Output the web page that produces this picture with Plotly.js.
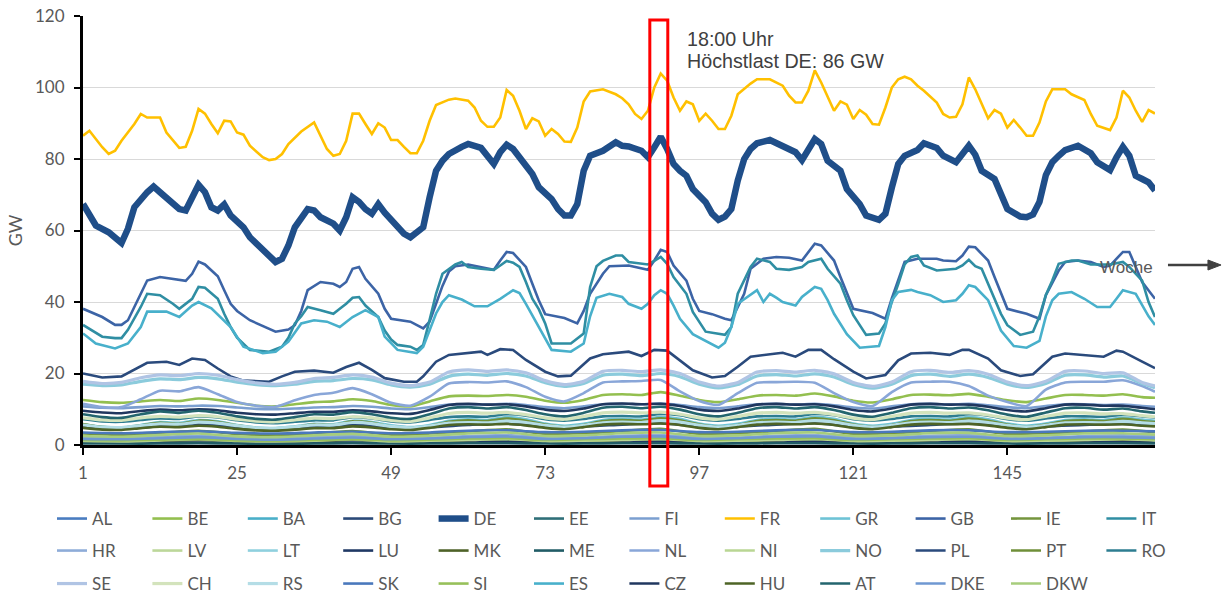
<!DOCTYPE html>
<html><head><meta charset="utf-8">
<script src="https://cdn.plot.ly/plotly-3.0.1.min.js"></script>
<style>html,body{margin:0;padding:0;background:#fff}#chart{width:1222px;height:594px}</style>
</head><body><div id="chart"></div>
<script>
// ---------- hour grids ----------
const H3 = [1,4,7,10,13,16,19,22,25,28,31,34,37,40,43,46,49,52,55,58,61,64,67,70,73,76,79,82,85,88,91,94,97,100,103,106,109,112,115,118,121,124,127,130,133,136,139,142,145,148,151,154,157,160,163,166,168];
const H6 = [1,7,13,19,25,31,37,43,49,55,61,67,73,79,85,91,97,103,109,115,121,127,133,139,145,151,157,163,168];
const X_TICKS = [1,25,49,73,97,121,145];
const Y_TICKS = [0,20,40,60,80,100,120];

// ---------- large series (read vertex by vertex) ----------
const FR_H = [1,2,4,5,6,7,9,10,11,13,14,16,17,18,19,20,21,22,23,24,25,26,27,29,30,31,32,33,35,37,39,40,41,42,43,44,45,46,47,48,49,50,51,52,53,54,55,56,58,59,61,62,63,64,65,66,67,68,69,70,71,72,73,74,75,76,77,78,79,80,82,84,85,86,87,88,89,90,91,92,93,94,95,96,97,98,99,100,101,102,103,105,106,108,110,111,112,113,114,115,116,117,118,119,120,121,122,123,124,125,126,127,128,129,130,131,132,134,135,136,137,138,139,140,141,142,143,144,145,146,147,148,149,150,151,152,154,155,157,158,159,161,162,163,164,165,166,167,168];
const FR = [86.5,87.9,83.3,81.4,82.3,85.1,89.8,92.6,91.6,91.6,87.4,83.1,83.4,87.9,94,92.7,89.8,87.2,90.7,90.5,87.4,86.8,83.7,80.5,79.7,80,81.4,84.2,87.7,90.2,82.8,80.9,81.4,85.1,92.7,92.7,89.8,87,90,88.8,85.3,85.3,83.4,81.6,81.6,85.1,90.7,95.1,96.6,96.9,96.3,94.4,90.7,89,89,91.6,99.3,97.7,93.5,88.4,91.4,90.5,86.5,88.4,87,84.9,84.8,88.8,96.1,98.9,99.5,98.1,97,95.3,92.6,91.2,93.5,100,103.9,101.9,97.2,93.5,96.1,95.3,90.7,92.7,90.7,88.4,88.4,92.1,98.1,101.1,102.3,102.3,100.5,97.7,95.8,95.8,99.1,104.8,101.4,97.2,93.5,96.1,95.2,91.2,93.7,92.4,89.8,89.6,94.4,100,102.3,103,102.3,100.5,99.1,95.8,92.6,91.6,91.8,95.3,102.8,99.5,95.3,91.4,93.7,92.7,88.8,90.9,88.8,86.5,86.5,90.2,96.1,99.5,99.5,98.1,96.5,92.6,89.3,88.1,91.6,99.1,97.2,93.5,90.4,93.7,92.7];

const DE_H = [1,2,3,5,6,7,8,9,11,12,13,15,16,17,18,19,20,21,22,23,24,26,27,28,29,30,31,32,33,34,36,37,38,40,41,42,43,44,45,46,47,48,50,51,52,54,55,56,57,58,60,61,63,64,65,66,67,68,70,71,72,74,75,76,77,78,79,80,82,84,85,86,88,89,90,91,92,93,94,95,96,98,99,100,101,102,103,104,105,106,108,110,112,113,114,115,116,117,119,120,122,123,125,126,127,128,129,131,132,134,135,137,138,139,140,141,143,144,145,147,148,149,150,151,152,153,154,156,158,159,161,162,163,164,165,166,167,168];
const DE = [67.4,64.2,61.4,59.5,58.1,56.5,60.5,66.5,70.7,72.3,70.7,67.9,66,65.6,69.3,72.8,70.7,66.5,65.6,67.3,64.2,60.9,58.1,56.3,54.9,53,51.2,52.1,55.8,60.9,66,65.6,63.7,61.9,60,63.7,69.3,68,66,64.7,67.4,65,61.4,59.1,58.1,60.9,69.3,76.7,79.5,81.4,83.4,84.2,83.1,80.9,78.6,81.9,84,82.8,77.7,75.8,72.1,68.8,66,64.2,64.2,67.4,76.7,80.9,82.3,84.7,83.7,83.5,82.3,80.5,83.3,86.2,82.8,78.6,76.7,75.3,71.6,67.9,64.7,63,63.9,66,74,80,82.8,84.4,85.3,83.7,81.9,79.7,82.3,85.6,84.2,79.5,76.7,71.6,67.4,64.2,63,64.7,72,78.6,80.9,82.5,84.4,83.1,80.9,79.1,81.4,83.7,81.2,76.7,74.4,70.2,66,63.9,63.7,64.5,68,75.5,79.1,80.9,82.5,83.7,81.6,79.1,76.9,80.5,83.4,80.9,75.3,74.4,73.5,71.2];

const GB_H = [1,4,6,7,8,10,11,13,16,17,18,19,20,22,23,24,25,26,27,31,33,34,35,36,38,40,41,42,43,44,45,47,48,49,52,54,55,56,57,58,59,61,63,65,66,67,68,70,71,72,73,76,78,79,80,82,83,86,89,90,91,92,93,95,96,97,99,101,102,104,105,107,109,111,113,114,115,116,118,119,120,121,124,126,127,128,129,131,134,135,137,138,139,140,142,143,144,145,148,150,151,153,154,156,158,160,161,162,163,164,165,166,168];
const GB = [38.1,35.8,33.6,33.6,34.9,42.3,46,47,46.2,45.9,47.9,51.3,50.5,47.2,43.3,39.5,37.5,36.2,34.9,31.7,32.3,33.5,37.5,43.3,45.6,45.1,44.2,45.6,49.3,49.8,46.5,42.3,38.1,35.3,34.5,32.6,34.5,39.5,44.5,48.5,50,50.5,49.8,49,51.6,54,53.7,49.8,45.1,40.5,36.6,35.5,34,37.5,42.3,47.9,50,50.2,49,51.6,54.6,54,50.2,46,40.9,37.5,36.6,35.3,34.9,42.3,49.3,52.1,52.6,52.4,51.6,54,56.3,55.8,51.6,47,42.3,38.1,36.9,35.3,41,46,51.2,52.1,52.1,51.6,51.4,53,55.5,55.3,51.6,47,42.3,38.1,36.7,35.3,41.9,48.8,51.2,51.6,51.2,49.8,50.2,52,54,54,49.8,45.6,40.9];

const IT_H = [1,4,6,7,8,10,11,13,15,16,18,19,20,22,23,24,25,27,30,32,33,34,35,36,38,40,41,42,43,44,45,47,48,49,50,52,53,54,55,56,57,59,60,61,63,65,66,67,68,69,70,71,72,73,74,77,79,80,81,82,84,85,86,89,90,91,92,93,95,96,98,101,102,103,105,106,108,109,111,113,114,116,117,119,120,121,123,125,126,127,128,129,130,131,132,134,137,138,139,140,141,142,143,144,145,147,149,150,151,152,153,155,156,158,159,161,163,164,166,167,168];
const IT = [33.6,30.3,29.9,29.9,32.2,38.6,42.3,41.9,39.5,38.1,40.9,44.2,44,40.9,36.7,33,30,26.6,26.1,27.5,30,34,36,38.6,37.7,36.7,38.1,39.5,41.2,41.4,39,35.8,32,29.5,28,27.5,26.6,28,35,42.3,47.9,50.5,51.2,49.8,49.3,49,50.2,51.5,51,49.8,45.6,40.9,38,34,28.4,28.4,31.2,44.2,50,51.5,53,53,51.2,50.5,51.5,52.6,50.7,47,42.3,37.2,31.7,30.8,33,42.3,49.8,52.1,51.2,49.3,49,49.8,51.2,52.1,49.3,45.1,40.5,36.3,30.8,31.2,34,40,45,50.5,52.6,53,50.2,48.8,49.3,50.2,51.8,50,49.3,45.1,40.5,36.7,33.5,30.8,31.7,36,42,46,50.7,51.6,51.6,50.5,50.5,50.5,51.2,49.8,46,40,35.8];

const ES_H = [1,3,6,8,10,11,14,16,18,19,21,24,26,29,31,33,35,37,39,41,43,45,47,48,50,53,54,56,57,58,60,62,64,66,68,69,70,71,72,74,77,79,80,81,83,85,86,88,89,90,91,92,93,94,96,99,100,101,102,103,105,106,107,108,109,110,112,113,115,116,117,118,120,122,125,126,127,128,130,131,133,135,137,138,139,140,142,143,144,146,148,150,151,152,153,155,157,159,161,162,163,165,166,167,168];
const ES = [31.2,28.4,27,28.4,33,37.3,37.3,35.8,39,40,38.2,33,27.5,25.7,26.1,28.9,34,34.9,34.5,33,35.8,37.7,35.8,30.3,26.6,25.7,27.5,36.8,40,41.9,40.7,38.8,38.8,40.9,43.3,42.5,39.5,36.3,33,26.6,26.1,28.4,36,41.2,42.3,41.4,39.5,38.1,39.5,41.9,43.3,42.3,39,35.3,31,28.1,27.2,28.6,33,39.5,41.9,43.3,40,42.3,41.2,40,39,41.4,44.2,43.7,40.5,36.7,31,27.2,27.7,33,40.5,42.8,43.4,42.8,41.9,40,40.5,42.3,44.7,44.2,40.5,36.3,32,27.7,27.2,29.1,36,40.5,42.3,42.8,40.9,38.6,38.6,40.9,43.3,42.3,39,36,33.6];

const PL_H = [1,4,7,9,11,14,16,18,20,22,24,26,30,32,34,37,40,42,44,46,48,51,53,54,56,58,61,63,64,66,68,70,73,75,77,78,80,82,86,88,90,92,94,96,99,101,103,105,109,110,112,114,116,118,121,123,126,128,130,133,136,138,139,142,144,147,149,152,154,157,160,162,163,166,168];
const PL = [20,18.9,19.2,21,23,23.3,22.4,24.2,23.8,21.4,19.2,18,17.7,19.2,20.5,20.8,20.2,21.8,23,21,18.7,17.7,17.7,19.2,23.3,25.2,25.8,26.1,25.2,26.8,26.6,23.8,20.5,19.2,19.4,21,24.2,25.4,26.1,24.9,26.6,26.4,23.7,20.9,18.9,19.3,21.9,24.7,25.6,25.8,24.7,26.6,26.6,24,20.5,18.6,19.6,23.7,25.6,25.8,25.2,26.6,26.6,24.2,20.9,19.3,19.8,24.7,25.6,25.2,24.7,26.4,26.1,23.3,21.5];

// ---------- mid series, 3-hourly (H3) ----------
const SE = [17.8,17.2,17.5,18.8,19.6,19.4,20.0,19.5,18.3,17.4,17.0,17.5,18.6,18.9,19.6,19.0,17.3,16.6,17.6,20.4,21.0,20.6,21.0,20.2,18.0,16.9,17.8,20.6,20.9,20.5,21.0,20.0,17.6,16.5,17.5,20.4,20.8,20.4,20.9,19.9,17.5,16.4,17.6,20.5,20.9,20.3,20.8,19.8,17.6,16.6,17.8,20.6,20.7,20.0,20.2,17.5,16.5];
const NO = [17.0,16.6,16.8,17.8,18.5,18.3,18.9,18.5,17.6,16.9,16.6,17.0,17.8,18.0,18.6,18.2,16.8,16.2,17.0,19.2,19.8,19.5,20.0,19.3,17.4,16.4,17.2,19.5,19.8,19.4,20.0,19.1,17.0,16.0,16.9,19.3,19.7,19.3,19.9,19.0,16.9,15.9,17.0,19.4,19.8,19.2,19.8,18.9,17.0,16.1,17.2,19.5,19.6,19.0,19.3,17.2,16.0];
const NL = [11.5,10.6,10.6,12.8,15.2,15.0,16.2,14.2,12.0,11.0,10.7,12.5,14.0,14.6,15.9,14.2,11.8,11.0,13.5,17.2,17.6,17.5,17.8,16.2,13.5,12.2,14.5,17.5,17.8,17.9,18.2,15.0,12.3,11.2,14.5,17.4,17.6,17.7,17.4,14.5,12.0,10.9,14.8,17.5,17.7,17.7,16.5,13.8,12.0,10.9,15.5,17.5,17.7,17.7,18.1,16.5,14.9];
const BE = [12.6,12.0,11.8,12.2,12.6,12.3,13.0,12.6,11.8,11.0,10.8,11.4,12.0,12.2,12.8,12.3,11.2,10.8,12.2,13.6,13.8,13.7,14.0,13.5,12.4,11.8,12.6,14.0,14.2,14.0,14.8,13.8,12.6,12.0,12.8,13.8,14.0,13.8,14.4,13.6,12.4,11.9,12.8,14.0,14.1,13.9,14.3,13.5,12.5,12.0,13.0,14.0,14.0,13.8,14.2,13.4,13.2];
const FI = [10.8,10.4,10.3,10.6,10.9,10.8,11.0,10.9,10.5,10.1,10.0,10.2,10.5,10.6,10.9,10.7,10.2,10.0,10.6,11.3,11.4,11.3,11.5,11.2,10.6,10.3,10.8,11.4,11.5,11.4,11.6,11.2,10.6,10.3,10.8,11.4,11.5,11.3,11.5,11.1,10.5,10.2,10.8,11.4,11.5,11.3,11.5,11.1,10.6,10.3,10.9,11.4,11.4,11.2,11.3,10.9,10.7];
const CZ = [9.6,9.1,8.9,9.5,9.9,9.7,10.0,9.7,9.0,8.6,8.5,8.9,9.3,9.3,9.7,9.4,8.9,8.7,9.8,11.2,11.5,11.3,11.4,10.8,9.9,9.5,10.2,11.4,11.6,11.4,11.5,10.9,9.9,9.5,10.2,11.3,11.5,11.3,11.4,10.8,9.8,9.4,10.2,11.3,11.5,11.3,11.3,10.7,9.8,9.4,10.3,11.3,11.3,11.0,11.0,10.4,10.0];
const AT = [8.6,7.8,7.6,8.6,9.4,9.0,9.6,9.0,8.0,7.3,7.1,7.8,8.6,8.5,9.2,8.6,7.6,7.3,8.6,10.2,10.6,10.2,10.6,9.8,8.6,8.0,9.0,10.4,10.7,10.3,10.7,9.9,8.6,8.0,9.0,10.3,10.6,10.2,10.6,9.8,8.5,7.9,9.0,10.3,10.6,10.2,10.5,9.7,8.5,7.9,9.1,10.3,10.4,9.9,10.2,9.4,9.0];
const CH = [7.6,7.0,6.9,7.6,8.0,7.8,8.2,7.9,7.2,6.7,6.5,7.0,7.5,7.4,7.9,7.6,6.9,6.6,7.6,8.8,9.1,8.9,9.1,8.5,7.6,7.2,8.0,9.0,9.2,9.0,9.2,8.6,7.6,7.2,8.0,8.9,9.1,8.9,9.1,8.5,7.5,7.1,8.0,8.9,9.1,8.9,9.0,8.4,7.5,7.1,8.0,8.9,9.0,8.7,8.8,8.2,7.9];
const RO = [7.2,6.6,6.5,7.0,7.4,7.3,8.0,7.7,6.9,6.3,6.1,6.5,6.9,6.9,7.8,7.4,6.6,6.3,7.0,7.8,8.0,7.9,8.6,8.2,7.2,6.8,7.3,8.0,8.1,8.0,8.7,8.3,7.2,6.8,7.3,8.0,8.1,8.0,8.7,8.3,7.2,6.8,7.3,8.0,8.1,8.0,8.6,8.2,7.2,6.8,7.4,8.0,8.0,7.9,8.5,8.0,7.7];
const GR = [5.8,5.1,4.9,5.6,6.4,6.2,7.0,6.6,5.6,4.9,4.7,5.2,5.9,5.8,6.8,6.4,5.5,5.0,5.6,6.8,7.2,7.0,7.8,7.2,6.0,5.4,5.9,7.0,7.3,7.1,7.9,7.3,6.0,5.4,5.9,7.0,7.3,7.1,7.9,7.3,6.0,5.4,5.9,7.0,7.3,7.1,7.8,7.2,6.0,5.4,6.0,7.0,7.2,7.0,7.7,7.1,6.8];
const PT = [5.9,5.0,4.8,5.5,6.2,5.9,6.8,6.4,5.5,4.7,4.5,5.0,5.8,5.6,6.6,6.2,5.2,4.7,5.3,6.5,6.9,6.7,7.4,6.8,5.7,5.0,5.6,6.7,7.0,6.8,7.5,6.9,5.7,5.0,5.6,6.7,7.0,6.8,7.5,6.9,5.7,5.0,5.6,6.7,7.0,6.8,7.4,6.8,5.7,5.0,5.7,6.7,6.9,6.7,7.3,6.7,6.4];
const RS = [5.6,5.0,4.9,5.4,5.9,5.8,6.4,6.1,5.4,4.8,4.7,5.1,5.6,5.6,6.3,6.0,5.2,4.8,5.3,6.1,6.3,6.2,6.7,6.3,5.5,5.0,5.5,6.2,6.4,6.3,6.8,6.4,5.5,5.0,5.5,6.2,6.4,6.3,6.8,6.4,5.5,5.0,5.5,6.2,6.4,6.3,6.7,6.3,5.5,5.0,5.5,6.2,6.3,6.2,6.6,6.2,6.0];
const HU = [4.8,4.3,4.2,4.7,5.1,5.0,5.4,5.1,4.5,4.1,4.0,4.3,4.7,4.7,5.2,4.9,4.4,4.2,4.8,5.6,5.8,5.7,5.9,5.5,4.8,4.4,5.0,5.7,5.9,5.8,6.0,5.6,4.8,4.4,5.0,5.7,5.9,5.8,6.0,5.6,4.8,4.4,5.0,5.7,5.9,5.8,5.9,5.5,4.8,4.4,5.0,5.7,5.8,5.7,5.8,5.4,5.2];

// ---------- small series, 6-hourly (H6) ----------
const BG = [5.2,4.8,5.2,5.8,5.0,4.6,5.0,5.7,4.9,5.0,5.6,6.0,5.2,5.2,5.7,6.1,5.2,5.2,5.7,6.1,5.2,5.2,5.6,6.0,5.2,5.2,5.6,5.9,5.5];
const IE = [3.2,2.8,3.4,4.0,3.1,2.7,3.2,3.9,2.9,3.2,3.8,4.4,3.1,3.3,3.9,4.5,3.1,3.3,3.9,4.5,3.1,3.3,3.9,4.4,3.1,3.3,3.8,4.3,3.6];
const SK = [3.5,3.3,3.6,3.8,3.4,3.2,3.5,3.7,3.3,3.5,4.0,4.1,3.6,3.7,4.1,4.2,3.6,3.7,4.1,4.2,3.6,3.7,4.1,4.1,3.6,3.7,4.0,4.0,3.8];
const DKW = [2.5,2.3,2.8,3.2,2.4,2.2,2.7,3.1,2.3,2.6,3.2,3.5,2.5,2.7,3.3,3.5,2.5,2.7,3.3,3.5,2.5,2.7,3.3,3.4,2.5,2.7,3.2,3.3,2.9];
const HR = [2.1,1.9,2.3,2.6,2.0,1.8,2.2,2.5,1.9,2.0,2.5,2.8,2.1,2.1,2.6,2.8,2.1,2.1,2.6,2.8,2.1,2.1,2.6,2.7,2.1,2.1,2.5,2.7,2.4];
const DKE = [1.7,1.6,1.9,2.2,1.7,1.5,1.8,2.1,1.6,1.8,2.2,2.4,1.7,1.9,2.3,2.4,1.7,1.9,2.3,2.4,1.7,1.9,2.2,2.3,1.7,1.9,2.2,2.2,2.0];
const BA = [1.6,1.4,1.7,2.0,1.6,1.4,1.6,1.9,1.5,1.5,1.8,2.1,1.6,1.6,1.8,2.1,1.6,1.6,1.8,2.1,1.6,1.6,1.8,2.0,1.6,1.6,1.8,2.0,1.8];
const SI = [1.4,1.3,1.5,1.7,1.3,1.2,1.4,1.6,1.3,1.5,1.8,1.9,1.4,1.6,1.8,1.9,1.4,1.6,1.8,1.9,1.4,1.6,1.8,1.9,1.4,1.6,1.8,1.8,1.6];
const NI = [1.1,1.0,1.3,1.6,1.1,1.0,1.2,1.6,1.0,1.2,1.4,1.7,1.1,1.2,1.4,1.7,1.1,1.2,1.4,1.7,1.1,1.2,1.4,1.7,1.1,1.2,1.4,1.6,1.3];
const LT = [1.1,1.0,1.2,1.4,1.0,0.9,1.1,1.3,1.0,1.1,1.4,1.5,1.1,1.2,1.4,1.5,1.1,1.2,1.4,1.5,1.1,1.2,1.4,1.5,1.1,1.2,1.4,1.4,1.3];
const MK = [1.2,1.1,1.3,1.5,1.2,1.0,1.2,1.5,1.1,1.2,1.4,1.6,1.2,1.2,1.4,1.6,1.2,1.2,1.4,1.6,1.2,1.2,1.4,1.6,1.2,1.2,1.4,1.5,1.4];
const EE = [0.9,0.8,1.0,1.1,0.9,0.8,0.9,1.1,0.8,0.9,1.1,1.2,0.9,1.0,1.1,1.2,0.9,1.0,1.1,1.2,0.9,1.0,1.1,1.2,0.9,1.0,1.1,1.1,1.0];
const AL = [1.0,0.9,1.0,1.3,1.0,0.9,1.0,1.3,0.9,1.0,1.1,1.4,1.0,1.0,1.1,1.4,1.0,1.0,1.1,1.4,1.0,1.0,1.1,1.4,1.0,1.0,1.1,1.3,1.2];
const LV = [0.8,0.7,0.8,0.9,0.7,0.6,0.8,0.9,0.7,0.8,0.9,1.0,0.7,0.8,0.9,1.0,0.7,0.8,0.9,1.0,0.7,0.8,0.9,1.0,0.7,0.8,0.9,0.9,0.8];
const LU = [0.7,0.6,0.7,0.7,0.6,0.6,0.6,0.7,0.6,0.7,0.8,0.8,0.7,0.7,0.8,0.8,0.7,0.7,0.8,0.8,0.7,0.7,0.8,0.8,0.7,0.7,0.8,0.8,0.7];
const ME = [0.4,0.4,0.4,0.5,0.4,0.3,0.4,0.5,0.4,0.4,0.5,0.5,0.4,0.4,0.5,0.5,0.4,0.4,0.5,0.5,0.4,0.4,0.5,0.5,0.4,0.4,0.5,0.5,0.4];

// ---------- legend rows (series order) ----------
const ROW1 = ['AL','BE','BA','BG','DE','EE','FI','FR','GR','GB','IE','IT'];
const ROW2 = ['HR','LV','LT','LU','MK','ME','NL','NI','NO','PL','PT','RO'];
const ROW3 = ['SE','CH','RS','SK','SI','ES','CZ','HU','AT','DKE','DKW'];

const DATA = {
  AL:[H6,AL], BE:[H3,BE], BA:[H6,BA], BG:[H6,BG], DE:[DE_H,DE], EE:[H6,EE], FI:[H3,FI], FR:[FR_H,FR],
  GR:[H3,GR], GB:[GB_H,GB], IE:[H6,IE], IT:[IT_H,IT], HR:[H6,HR], LV:[H6,LV], LT:[H6,LT], LU:[H6,LU],
  MK:[H6,MK], ME:[H6,ME], NL:[H3,NL], NI:[H6,NI], NO:[H3,NO], PL:[PL_H,PL], PT:[H3,PT], RO:[H3,RO],
  SE:[H3,SE], CH:[H3,CH], RS:[H3,RS], SK:[H6,SK], SI:[H6,SI], ES:[ES_H,ES], CZ:[H3,CZ], HU:[H3,HU],
  AT:[H3,AT], DKE:[H6,DKE], DKW:[H6,DKW]
};

// ---------- styles ----------
const COLORS = {
  AL:'#4a7cc0', BE:'#93bf4f', BA:'#4aafc9', BG:'#2b4a78', DE:'#1f4e89', EE:'#2f6f78', FI:'#7b9fd0', FR:'#ffc000',
  GR:'#6ec3d6', GB:'#3c64a6', IE:'#74953d', IT:'#2f8ea3', HR:'#8eacd8', LV:'#bcd79a', LT:'#8fd0de', LU:'#1f3864',
  MK:'#4e6228', ME:'#215c66', NL:'#89a6d8', NI:'#b9d693', NO:'#8bcbdc', PL:'#2a4a7c', PT:'#6f8f38', RO:'#2d7d91',
  SE:'#b0c4e4', CH:'#d3e3bc', RS:'#b4dde6', SK:'#4a78bc', SI:'#97c05a', ES:'#48b0cb', CZ:'#20375f', HU:'#4e6426',
  AT:'#23656e', DKE:'#6f98d2', DKW:'#a7cd7c'
};
const DETAILED = ['FR','DE','GB','IT','ES','PL'];
const THICK = ['SE','NO','RS','CH'];

// each legend row is split in two halves (6 entries each)
const LEGEND_IDS = ['legend','legend2','legend3','legend4','legend5','legend6'];
const traces = [];
[ROW1, ROW2, ROW3].forEach((row, r) => {
  row.forEach((name, i) => {
    const [xs, ys] = DATA[name];
    traces.push({
      type:'scatter', mode:'lines', name:name, x:xs, y:ys,
      legend: LEGEND_IDS[r*2 + (i < 6 ? 0 : 1)],
      line:{color:COLORS[name], width: name==='DE' ? 6.5 : (THICK.includes(name) ? 3.2 : 2.6),
            shape: DETAILED.includes(name) ? 'linear' : 'spline', smoothing:0.6},
      hoverinfo:'skip'
    });
  });
});

const ROW_Y = [519, 551, 584];          // legend row centres (px from top)
const COL_X = [52, 52 + 6*95.4];        // left / right half starts (px)
const legendBase = {
  orientation:'h', xref:'container', yref:'container', xanchor:'left', yanchor:'middle',
  entrywidth:50.4, entrywidthmode:'pixels', bgcolor:'rgba(0,0,0,0)', borderwidth:0,
  font:{family:'Lato, sans-serif', size:17, color:'#595959'}, traceorder:'normal'
};

const layout = {
  width:1222, height:594,
  margin:{l:83, r:67, t:16, b:149},
  paper_bgcolor:'#ffffff', plot_bgcolor:'#ffffff',
  font:{family:'Lato, sans-serif', color:'#595959', size:16},
  showlegend:true,
  xaxis:{range:[1,168], tickmode:'array', tickvals:X_TICKS, ticktext:X_TICKS.map(String),
         showgrid:false, zeroline:false, showline:true, linecolor:'#000', linewidth:2.5,
         ticks:'outside', ticklen:7, tickwidth:2, tickcolor:'#000',
         tickfont:{family:'Lato, sans-serif', size:17, color:'#595959'}, ticklabelstandoff:4},
  yaxis:{range:[0,120], tickmode:'array', tickvals:Y_TICKS, ticktext:Y_TICKS.map(String),
         showgrid:true, gridcolor:'#d9d9d9', gridwidth:1, zeroline:false,
         showline:true, linecolor:'#000', linewidth:3,
         ticks:'outside', ticklen:6, tickwidth:2, tickcolor:'#000',
         tickfont:{family:'Lato, sans-serif', size:17, color:'#595959'}, ticklabelstandoff:6,
         title:{text:'GW', font:{family:'Lato, sans-serif', size:18, color:'#595959'}, standoff:8}},
  shapes:[
    {type:'rect', xref:'x', yref:'paper', x0:89.3, x1:92.1, y0:-0.0956, y1:0.9907,
     line:{color:'#ff0000', width:3}, fillcolor:'rgba(0,0,0,0)', layer:'above'},
    {type:'line', xref:'paper', yref:'paper', x0:1.0121, x1:1.0532, y0:0.4196, y1:0.4196,
     line:{color:'#404040', width:2.5}},
    {type:'path', xref:'paper', yref:'paper', path:'M 1.0494 0.4312 L 1.0616 0.4196 L 1.0494 0.4079 Z',
     fillcolor:'#404040', line:{color:'#404040', width:1}}
  ],
  annotations:[
    {xref:'paper', yref:'paper', x:0.562, y:0.9464, xanchor:'left', yanchor:'middle', showarrow:false,
     text:'18:00 Uhr', font:{family:'Liberation Sans, Arial, sans-serif', size:19.7, color:'#404040'}},
    {xref:'paper', yref:'paper', x:0.562, y:0.8951, xanchor:'left', yanchor:'middle', showarrow:false,
     text:'Höchstlast DE: 86 GW', font:{family:'Liberation Sans, Arial, sans-serif', size:19.7, color:'#404040'}},
    {xref:'paper', yref:'paper', x:1.0, y:0.4149, xanchor:'right', yanchor:'middle', showarrow:false,
     text:'Woche', font:{family:'Liberation Sans, Arial, sans-serif', size:17, color:'#595959'}}
  ]
};
LEGEND_IDS.forEach((id, k) => {
  const r = Math.floor(k / 2), c = k % 2;
  layout[id] = Object.assign({}, legendBase, {x: COL_X[c] / 1222, y: 1 - ROW_Y[r] / 594});
});

Plotly.newPlot('chart', traces, layout, {displayModeBar:false, staticPlot:true});
</script>
</body></html>
